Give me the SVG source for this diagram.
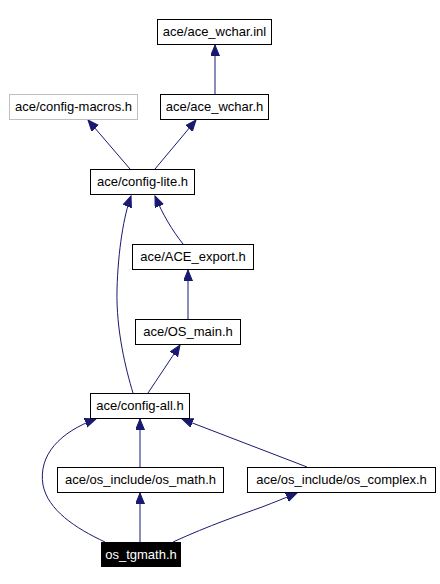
<svg xmlns="http://www.w3.org/2000/svg" width="440" height="584" viewBox="0 0 440 584">
<style>
.box{fill:#fff;stroke:#000;stroke-width:1}
.gray{stroke:#bfbfbf}
.root{fill:#000;stroke:#000}
text{font-family:"Liberation Sans",Arial,sans-serif;font-size:13px;text-anchor:middle;fill:#000}
.root-t{fill:#fff}
.edge{fill:none;stroke:#191970;stroke-width:1;marker-end:url(#ah)}
</style>
<defs>
<marker id="ah" markerUnits="userSpaceOnUse" markerWidth="12" markerHeight="10" refX="11" refY="4.5" orient="auto">
<path d="M0,0 L11,4.5 L0,9 z" fill="#191970" stroke="#191970"/>
</marker>
</defs>
<rect width="440" height="584" fill="#fff"/>
<g id="edges">
<path class="edge" d="M215,94 L215,45"/>
<path class="edge" d="M130,169 L88,120"/>
<path class="edge" d="M155,169 L196,120"/>
<path class="edge" d="M183,244 C172,230 163,215 155,196"/>
<path class="edge" d="M188,319 L188,270"/>
<path class="edge" d="M148,393 C158,378 170,360 180,345"/>
<path class="edge" d="M133,393 C126,370 116,330 117,290 C118,250 124,215 131,196"/>
<path class="edge" d="M140,467 L140,419"/>
<path class="edge" d="M307,467 L182,419"/>
<path class="edge" d="M105,542 C75,528 48,510 43,485 C38,455 60,432 96,419"/>
<path class="edge" d="M140,542 L140,493"/>
<path class="edge" d="M173,542 C210,525 240,515 262,507 C275,502 285,498 297,493"/>
</g>
<g id="n_ace_wchar_inl"><rect class="box" x="157.5" y="19.5" width="114" height="25"/><text x="214.5" y="36">ace/ace_wchar.inl</text></g>
<g id="n_config_macros"><rect class="box gray" x="9.5" y="94.5" width="128" height="25"/><text x="73.5" y="111">ace/config-macros.h</text></g>
<g id="n_ace_wchar_h"><rect class="box" x="160.5" y="94.5" width="108" height="25"/><text x="214.5" y="111">ace/ace_wchar.h</text></g>
<g id="n_config_lite"><rect class="box" x="90.5" y="169.5" width="104" height="25"/><text x="142.5" y="186">ace/config-lite.h</text></g>
<g id="n_ace_export"><rect class="box" x="132.5" y="244.5" width="121" height="25"/><text x="193" y="261">ace/ACE_export.h</text></g>
<g id="n_os_main"><rect class="box" x="135.5" y="319.5" width="105" height="25"/><text x="188" y="336">ace/OS_main.h</text></g>
<g id="n_config_all"><rect class="box" x="90.5" y="393.5" width="99" height="25"/><text x="140" y="410">ace/config-all.h</text></g>
<g id="n_os_math"><rect class="box" x="57.5" y="467.5" width="166" height="25"/><text x="140.5" y="484">ace/os_include/os_math.h</text></g>
<g id="n_os_complex"><rect class="box" x="247.5" y="467.5" width="188" height="25"/><text x="341.5" y="484">ace/os_include/os_complex.h</text></g>
<g id="n_os_tgmath"><rect class="box root" x="101.5" y="542.5" width="79" height="24"/><text class="root-t" x="141" y="559">os_tgmath.h</text></g>
</svg>
